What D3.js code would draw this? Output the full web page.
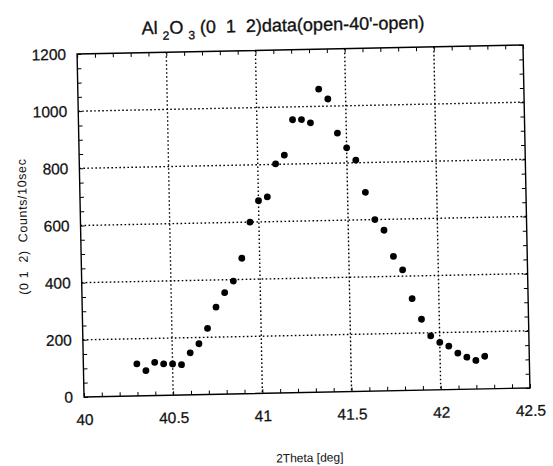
<!DOCTYPE html>
<html>
<head>
<meta charset="utf-8">
<script src="https://cdn.jsdelivr.net/npm/d3@7"></script>
<style>
  body { margin: 0; background: #fff; }
  svg { font-family: "Liberation Sans", Arial, sans-serif; }
  .axis path, .axis line { stroke: #000; }
  .axis text { fill: #111; stroke: #111; stroke-width: 0.25; }
</style>
</head>
<body>
<div id="chart"></div>
<script>
// 2theta positions (deg) and counts per 10 sec
let theta = [40.30, 40.35, 40.40, 40.45, 40.50, 40.55, 40.60, 40.65, 40.70, 40.75,
             40.80, 40.85, 40.90, 40.95, 41.00, 41.05, 41.10, 41.15, 41.20, 41.25,
             41.30, 41.35, 41.40, 41.45, 41.50, 41.55, 41.60, 41.65, 41.70, 41.75,
             41.80, 41.85, 41.90, 41.95, 42.00, 42.05, 42.10, 42.15, 42.20, 42.25];
let counts = [112, 88, 116, 110, 109, 106, 147, 178, 231, 305,
              355, 395, 474, 600, 674, 687, 802, 832, 955, 955,
              943, 1060, 1025, 905, 853, 809, 696, 600, 562, 470,
              422, 321, 248, 189, 166, 152, 127, 112, 100, 114];

let xTicks = [40, 40.5, 41, 41.5, 42, 42.5];
let xTickLabels = ["40", "40.5", "41", "41.5", "42", "42.5"];
let yTicks = [0, 200, 400, 600, 800, 1000, 1200];

let W = 553, H = 466;
let pLeft = 80.5, pRight = 526.5, pTop = 49.5, pBottom = 392.5;

let svg = d3.select("#chart")
              .append("svg")
                  .attr("width", W)
                  .attr("height", H)
;

// the scanned page is turned a little, so the whole drawing is too
let g = svg.append("g")
              .attr("transform", "rotate(-1.16, 303.5, 221)");

let x = d3.scaleLinear().domain([40, 42.5]).range([pLeft, pRight]);
let y = d3.scaleLinear().domain([0, 1200]).range([pBottom, pTop]);

// dotted grid at the inner major ticks
g.append("g")
    .selectAll("line")
    .data(xTicks.slice(1, -1))
    .join("line")
      .attr("x1", d => x(d)).attr("x2", d => x(d))
      .attr("y1", pTop).attr("y2", pBottom)
      .attr("stroke", "#000")
      .attr("stroke-width", 1.4)
      .attr("stroke-dasharray", "1.6,2.4");

g.append("g")
    .selectAll("line")
    .data(yTicks.slice(1, -1))
    .join("line")
      .attr("x1", pLeft).attr("x2", pRight)
      .attr("y1", d => y(d)).attr("y2", d => y(d))
      .attr("stroke", "#000")
      .attr("stroke-width", 1.4)
      .attr("stroke-dasharray", "1.6,2.4");

// minor ticks on all four sides, pointing inward
let xMinor = d3.range(40, 42.501, 0.1);
let yMinor = d3.range(0, 1200.1, 50);

g.append("g").attr("class", "axis")
    .attr("transform", "translate(0," + pBottom + ")")
    .call(d3.axisBottom(x).tickValues(xMinor).tickSize(-4).tickFormat(""))
    .call(a => a.select(".domain").remove());
g.append("g").attr("class", "axis")
    .attr("transform", "translate(0," + pTop + ")")
    .call(d3.axisTop(x).tickValues(xMinor).tickSize(-4).tickFormat(""))
    .call(a => a.select(".domain").remove());
g.append("g").attr("class", "axis")
    .attr("transform", "translate(" + pLeft + ",0)")
    .call(d3.axisLeft(y).tickValues(yMinor).tickSize(-4).tickFormat(""))
    .call(a => a.select(".domain").remove());
g.append("g").attr("class", "axis")
    .attr("transform", "translate(" + pRight + ",0)")
    .call(d3.axisRight(y).tickValues(yMinor).tickSize(-4).tickFormat(""))
    .call(a => a.select(".domain").remove());

// tick labels
let xAxis = g.append("g").attr("class", "axis")
    .attr("transform", "translate(0," + pBottom + ")")
    .call(d3.axisBottom(x).tickValues(xTicks).tickSize(0).tickPadding(17)
            .tickFormat((d, i) => xTickLabels[i]));
xAxis.select(".domain").remove();
xAxis.selectAll("text").attr("font-size", 15.5).attr("font-family", "Liberation Sans, Arial, sans-serif");

let yAxis = g.append("g").attr("class", "axis")
    .attr("transform", "translate(" + pLeft + ",0)")
    .call(d3.axisLeft(y).tickValues(yTicks).tickSize(0).tickPadding(11).tickFormat(d3.format("d")));
yAxis.select(".domain").remove();
yAxis.selectAll("text").attr("font-size", 15.5).attr("font-family", "Liberation Sans, Arial, sans-serif");

// frame
g.append("rect")
    .attr("x", pLeft).attr("y", pTop)
    .attr("width", pRight - pLeft).attr("height", pBottom - pTop)
    .attr("fill", "none")
    .attr("stroke", "#000")
    .attr("stroke-width", 1.4);

// data points
g.append("g")
    .selectAll("circle")
    .data(theta)
    .join("circle")
      .attr("cx", d => x(d))
      .attr("cy", (d, i) => y(counts[i]))
      .attr("r", 3.4)
      .attr("fill", "#000");

// title with lowered subscripts
let title = g.append("text")
    .attr("x", 287).attr("y", 31)
    .attr("text-anchor", "middle")
    .attr("font-size", 18)
    .attr("fill", "#111")
    .attr("stroke", "#111")
    .attr("stroke-width", 0.35)
    .style("white-space", "pre");
title.append("tspan").text("Al ");
title.append("tspan").attr("font-size", 12).attr("dy", 6).text("2");
title.append("tspan").attr("dy", -6).text("O ");
title.append("tspan").attr("font-size", 12).attr("dy", 6).text("3");
title.append("tspan").attr("dy", -6).text(" (0  1  2)data(open-40'-open)");

// axis titles
g.append("text")
    .attr("x", 305).attr("y", 462)
    .attr("text-anchor", "middle")
    .attr("font-size", 12)
    .attr("fill", "#111")
    .text("2Theta [deg]");

g.append("text")
    .attr("transform", "translate(27,221) rotate(-90)")
    .attr("text-anchor", "middle")
    .attr("font-size", 12.5)
    .attr("letter-spacing", 0.6)
    .attr("fill", "#111")
    .style("white-space", "pre")
    .text("(0 1  2)  Counts/10sec");
</script>
</body>
</html>
